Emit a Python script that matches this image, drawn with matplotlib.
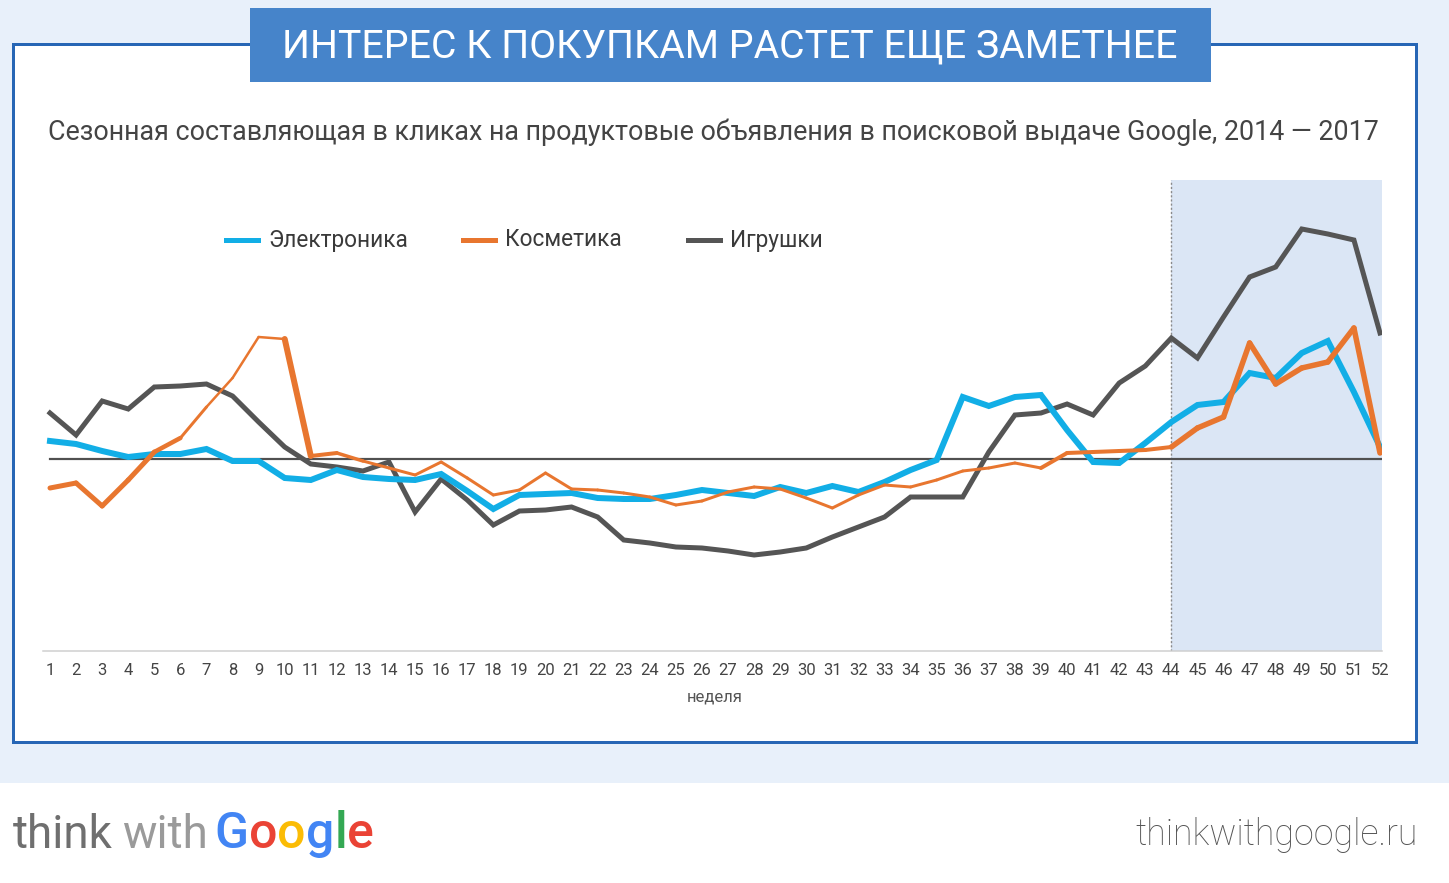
import matplotlib
matplotlib.use("Agg")
import matplotlib.pyplot as plt
from matplotlib.patches import Rectangle
from matplotlib.lines import Line2D

# ---------------- data ----------------
weeks = list(range(1, 53))
week_labels = [str(w) for w in weeks]

electronics = [1.8, 1.5, 0.8, 0.2, 0.5, 0.5, 1.0, -0.2, -0.2, -1.9,
               -2.1, -1.1, -1.8, -2.0, -2.1, -1.5, -3.2, -5.0, -3.6, -3.5,
               -3.4, -3.9, -4.0, -4.0, -3.6, -3.1, -3.4, -3.7, -2.8, -3.4,
               -2.7, -3.3, -2.3, -1.1, -0.1, 6.2, 5.3, 6.2, 6.4, 2.9,
               -0.3, -0.4, 1.6, 3.7, 5.4, 5.7, 8.6, 8.1, 10.6, 11.8,
               6.7, 1.2]

cosmetics = [-2.9, -2.4, -4.7, -2.1, 0.7, 2.1, 5.2, 8.1, 12.2, 12.0,
             0.3, 0.6, -0.2, -0.9, -1.6, -0.3, -1.9, -3.6, -3.1, -1.4,
             -3.0, -3.1, -3.4, -3.8, -4.6, -4.2, -3.3, -2.8, -3.0, -3.9,
             -4.9, -3.6, -2.6, -2.8, -2.1, -1.2, -0.9, -0.4, -0.9, 0.6,
             0.7, 0.8, 0.9, 1.2, 3.1, 4.2, 11.6, 7.5, 9.1, 9.7,
             13.1, 0.6]

toys = [4.6, 2.4, 5.8, 5.0, 7.2, 7.3, 7.5, 6.3, 3.7, 1.2,
        -0.5, -0.8, -1.2, -0.3, -5.3, -2.0, -4.1, -6.6, -5.2, -5.1,
        -4.8, -5.8, -8.1, -8.4, -8.8, -8.9, -9.2, -9.6, -9.3, -8.9,
        -7.8, -6.8, -5.8, -3.8, -3.8, -3.8, 0.7, 4.4, 4.6, 5.5,
        4.4, 7.6, 9.3, 12.1, 10.1, 14.2, 18.2, 19.2, 23.0, 22.5,
        21.9, 12.6]

series_names = ["Электроника", "Косметика", "Игрушки"]
highlight_start_week = 44

title = "ИНТЕРЕС К ПОКУПКАМ РАСТЕТ ЕЩЕ ЗАМЕТНЕЕ"
subtitle = ("Сезонная составляющая в кликах на продуктовые объявления "
            "в поисковой выдаче Google, 2014 — 2017")
xlabel = "неделя"
footer_right = "thinkwithgoogle.ru"

# ---------------- style ----------------
W, H, DPI = 1449, 883, 100
PX = 72.0 / DPI  # points per pixel

c_blue = "#12aee6"
c_orange = "#e8762f"
c_gray = "#555555"
c_bg = "#e8f0fa"
c_border = "#2766b5"
c_titlebox = "#4684ca"
c_shade = "#dbe6f5"

# per-segment widths of the orange line (pixels)
orange_seg_px = ([5, 5, 5, 5, 4.5, 3, 2.5, 2.5, 2.5, 6, 4, 3.5]
                 + [3] * 26 + [4] * 5 + [5.5] * 8)

plt.rcParams["font.family"] = ["Roboto", "DejaVu Sans"]

fig = plt.figure(figsize=(W / DPI, H / DPI), dpi=DPI)

# background axes in pixel coordinates
bg = fig.add_axes([0, 0, 1, 1])
bg.set_xlim(0, W)
bg.set_ylim(H, 0)
bg.axis("off")

bg.add_patch(Rectangle((0, 0), W, 783, facecolor=c_bg, edgecolor="none", zorder=0))
bg.add_patch(Rectangle((0, 783), W, H - 783, facecolor="white", edgecolor="none", zorder=0))
bg.add_patch(Rectangle((13, 44), 1403, 698, facecolor="white",
                       edgecolor=c_border, linewidth=3 * PX, zorder=1))
bg.add_patch(Rectangle((250, 8), 961, 74, facecolor=c_titlebox,
                       edgecolor="none", zorder=2))
bg.text(730, 47, title, color="white", fontsize=28.3, ha="center",
        va="center", zorder=3)
bg.text(48, 132, subtitle, color="#444444", fontsize=19.35, ha="left",
        va="center", zorder=3)

# legend (manual)
legend_items = [(226, series_names[0], c_blue),
                (463, series_names[1], c_orange),
                (688, series_names[2], c_gray)]
for x0, name, col in legend_items:
    bg.add_line(Line2D([x0, x0 + 32], [240, 240], color=col,
                       linewidth=5 * PX, zorder=3))
    bg.text(x0 + 42, 240, name, color="#3a3a3a", fontsize=16.3,
            ha="left", va="center", zorder=3)

bg.text(715, 697, xlabel, color="#555555", fontsize=12, ha="center",
        va="center", family=["Liberation Sans Narrow", "Roboto"], zorder=3)

# footer
fig.canvas.draw()
renderer = fig.canvas.get_renderer()


def put_text(x, s, color, size, weight="normal", y=848):
    t = bg.text(x, y, s, color=color, fontsize=size, ha="left",
                va="baseline", fontweight=weight, zorder=3)
    bb = t.get_window_extent(renderer=renderer)
    return x + bb.width


x = put_text(13, "think", "#6f6f6f", 33, weight="normal")
x = put_text(x + 9, "with", "#9a9a9a", 33, weight="normal")
x += 7
for ch, col in zip("Google", ["#4285f4", "#ea4335", "#fbbc05",
                               "#4285f4", "#34a853", "#ea4335"]):
    x = put_text(x, ch, col, 36, weight="medium")
bg.text(1418, 845, footer_right, color="#555555", fontsize=25.7,
        ha="right", va="baseline", fontweight="light", zorder=3)

# ---------------- chart axes ----------------
ax_left, ax_right, ax_bottom, ax_top = 43, 1382, 651, 180
ax = fig.add_axes([ax_left / W, (H - ax_bottom) / H,
                   (ax_right - ax_left) / W, (ax_bottom - ax_top) / H])
ax.set_facecolor("none")
px_per_week = (1380 - 50) / 51.0
x0 = 1 - (50 - ax_left) / px_per_week
x1 = 52 + (ax_right - 1380) / px_per_week
ax.set_xlim(x0, x1)
ax.set_ylim(-(ax_bottom - 459) / 10.0, (459 - ax_top) / 10.0)

for s in ["top", "right", "left"]:
    ax.spines[s].set_visible(False)
ax.spines["bottom"].set_color("#cfcfcf")
ax.spines["bottom"].set_linewidth(1.5 * PX)
ax.set_yticks([])
ax.set_xticks(weeks)
ax.set_xticklabels(week_labels, color="#444444", fontsize=12,
                   family=["Liberation Sans Narrow", "Roboto"])
ax.tick_params(axis="x", length=0, pad=8.5)

ax.axvspan(highlight_start_week, x1, color=c_shade, zorder=0, linewidth=0)
ax.axvline(highlight_start_week, color="#8a8a8a", linestyle=(0, (1.5, 1.5)),
           linewidth=1.0, zorder=1)
ax.axhline(0, xmin=(1 - x0) / (x1 - x0), xmax=1, color="#505050",
           linewidth=2.2 * PX, zorder=2)

ax.plot(weeks, toys, color=c_gray, linewidth=5 * PX, zorder=3,
        solid_joinstyle="miter", label=series_names[2])
ax.plot(weeks, electronics, color=c_blue, linewidth=6 * PX, zorder=4,
        solid_joinstyle="miter", label=series_names[0])
for i in range(len(weeks) - 1):
    ax.plot(weeks[i:i + 2], cosmetics[i:i + 2], color=c_orange,
            linewidth=orange_seg_px[i] * PX, solid_capstyle="round",
            zorder=5)

fig.savefig("out.png", dpi=DPI)
